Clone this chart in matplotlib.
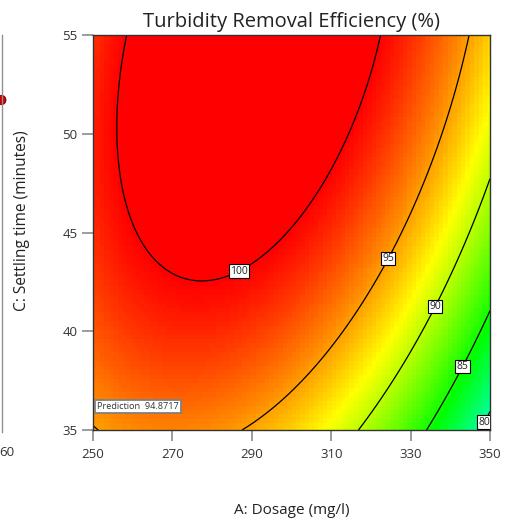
import numpy as np
import matplotlib
matplotlib.use("Agg")
import matplotlib.pyplot as plt
from matplotlib.colors import LinearSegmentedColormap, Normalize
from matplotlib.lines import Line2D
from matplotlib.patches import Circle

plt.rcParams['font.family'] = ['Open Sans', 'DejaVu Sans']

# Factor ranges (actual units)
dosage_range = [250, 350]        # A: Dosage (mg/l)
settling_range = [35, 55]        # C: Settling time (minutes)

# Quadratic model in coded factors: Y = b0 + bA*a + bC*c + bAC*a*c + bAA*a^2 + bCC*c^2
b0, bA, bC, bAC, bAA, bCC = 99.8887, -5.215, 4.5, 2.735, -6.5, -1.967

contour_levels = [80, 85, 90, 95, 100]
label_points = [(348.0, 35.46), (342.4, 38.29), (335.4, 41.33), (323.6, 43.76), (286.3, 43.25)]

x_ticks = [250, 270, 290, 310, 330, 350]
y_ticks = [35, 40, 45, 50, 55]

prediction_point = (250, 35)


def model(A, C):
    a = (A - 300.0) / 50.0
    c = (C - 45.0) / 10.0
    return b0 + bA * a + bC * c + bAC * a * c + bAA * a ** 2 + bCC * c ** 2


fig = plt.figure(figsize=(5.05, 5.24), dpi=100)
ax = fig.add_axes([93 / 505, 1 - 430 / 524, 397 / 505, 395 / 524])

# coarse shading grid plus a fine grid for the contour lines
gx = np.linspace(*dosage_range, 90)
gy = np.linspace(*settling_range, 90)
GX, GY = np.meshgrid(gx, gy)
Z = model(GX, GY)

cmap = LinearSegmentedColormap.from_list(
    "de", [(0, "#0000ff"), (7.5 / 30.5, "#00ffff"), (15 / 30.5, "#00ff00"),
           (22.5 / 30.5, "#ffff00"), (1.0, "#ff0000")])
norm = Normalize(vmin=69.5, vmax=100, clip=True)
ax.pcolormesh(GX, GY, Z, cmap=cmap, norm=norm, shading='nearest', rasterized=True)

fx = np.linspace(*dosage_range, 400)
fy = np.linspace(*settling_range, 400)
FX, FY = np.meshgrid(fx, fy)
FZ = model(FX, FY)
cs = ax.contour(FX, FY, FZ, levels=contour_levels, colors='black', linewidths=0.9)
labels = ax.clabel(cs, fmt='%d', inline=False, fontsize=7.5, manual=label_points, colors='#222222')
for t in labels:
    t.set_rotation(0)
    t.set_bbox(dict(boxstyle='square,pad=0.12', fc='white', ec='black', lw=0.8))

ax.set_xlim(*dosage_range)
ax.set_ylim(*settling_range)
ax.set_xticks(x_ticks)
ax.set_yticks(y_ticks)
ax.tick_params(direction='out', length=8, width=1.1, color='#808080',
               labelsize=9.5, labelcolor='#333333', pad=3)
ax.tick_params(axis='x', pad=5)
for s in ax.spines.values():
    s.set_color('#333333')
    s.set_linewidth(1.0)

ax.set_title('Turbidity Removal Efficiency (%)', fontsize=14.5, color='#222222', pad=6)
ax.set_xlabel('A: Dosage (mg/l)', fontsize=11, color='#222222', labelpad=30)
fig.text(22 / 505, 1 - 221 / 524, 'C: Settling time (minutes)', rotation=90,
         ha='center', va='center', fontsize=11.2, color='#222222')

# prediction flag at the design point
pred = model(*prediction_point)
ax.annotate(f'Prediction  {pred:.4f}', xy=prediction_point, xytext=(3, 17),
            textcoords='offset points', fontsize=6.6, color='#333333', ha='left', va='center',
            bbox=dict(boxstyle='square,pad=0.25', fc='white', ec='#808080', lw=1.3))

# edge of the neighbouring panel
fig.add_artist(Line2D([1.5 / 505, 1.5 / 505], [1 - 35 / 524, 1 - 432 / 524],
                      transform=fig.transFigure, color='#909090', lw=1.0))
fig.add_artist(Circle((1.5 / 505, 1 - 100 / 524), 4.5 / 505, transform=fig.transFigure,
                      fc='#cc0000', ec='#660000', lw=0.6))
fig.text(-1 / 505, 1 - 452 / 524, '60', fontsize=9.5, color='#333333', ha='left', va='center')

fig.savefig('out.png', dpi=100)
